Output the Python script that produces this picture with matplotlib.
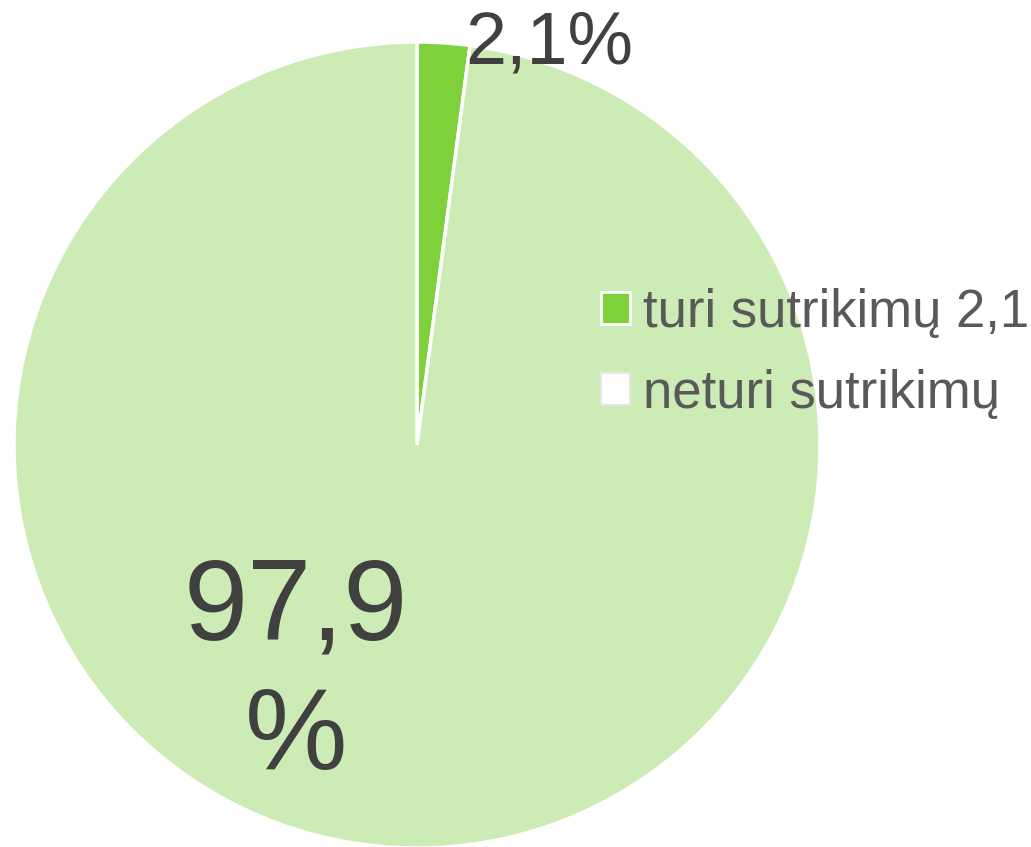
import matplotlib.pyplot as plt
from matplotlib.patches import Patch

labels = ["turi sutrikimų 2,1", "neturi sutrikimų"]
values = [2.1, 97.9]
value_labels = ["2,1%", "97,9\n%"]
colors = ["#7ed13b", "#cdebb5"]

plt.rcParams["font.family"] = ["Liberation Sans", "DejaVu Sans"]

W, H = 1031, 847
fig = plt.figure(figsize=(W / 100, H / 100), dpi=100)

cx, cy, r = 417, 445, 403
ax = fig.add_axes([(cx - r) / W, (H - cy - r) / H, 2 * r / W, 2 * r / H])
wedges, _ = ax.pie(
    values,
    colors=colors,
    startangle=90,
    counterclock=False,
    radius=1,
    wedgeprops=dict(edgecolor="white", linewidth=2.5),
)
ax.set_xlim(-1, 1)
ax.set_ylim(-1, 1)
ax.axis("off")

# data labels
ax.text(0.327, 0.995, value_labels[0], fontsize=53, color="#404040",
        ha="center", va="center")
ax.text(-0.30, -0.57, value_labels[1], fontsize=83, color="#404040",
        ha="center", va="center", linespacing=1.28)

handles = [
    Patch(facecolor=colors[0], edgecolor="white", linewidth=2),
    Patch(facecolor="white", edgecolor="#e6e6e6", linewidth=1.5),
]
fig.legend(
    handles, labels,
    loc="upper left",
    bbox_to_anchor=(601 / W, 1 - 288 / H),
    frameon=False,
    fontsize=38,
    labelcolor="#595959",
    handlelength=0.55,
    handleheight=0.55,
    handletextpad=0.25,
    labelspacing=0.58,
    borderpad=0,
    borderaxespad=0,
)

fig.savefig("out.png", dpi=100)
